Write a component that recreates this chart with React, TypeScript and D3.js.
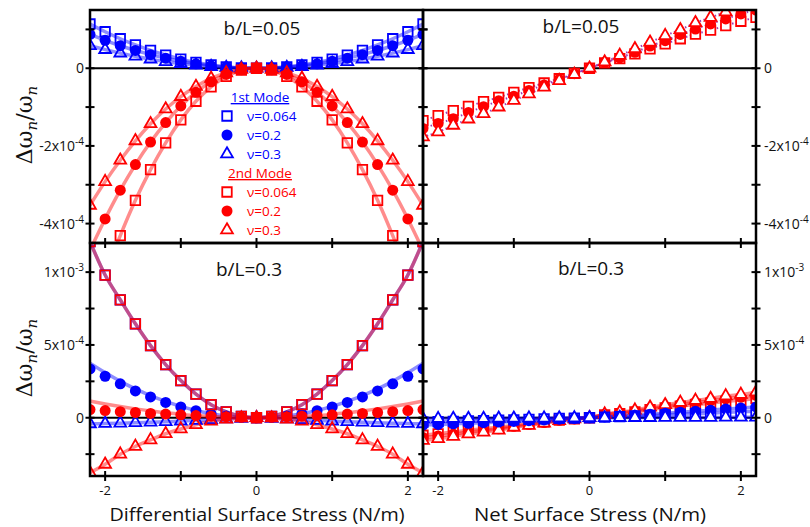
import React, { useEffect, useRef } from "react";
import * as d3 from "d3";

// surface stress grid (N/m)
const stress = [-2.2, -2.0, -1.8, -1.6, -1.4, -1.2, -1.0, -0.8, -0.6, -0.4, -0.2, 0, 0.2, 0.4, 0.6, 0.8, 1.0, 1.2, 1.4, 1.6, 1.8, 2.0, 2.2];

// all values in units of 1e-4
// b/L=0.05, differential surface stress
const d05Blue064 = [1.14, 0.94, 0.76, 0.6, 0.46, 0.34, 0.235, 0.15, 0.085, 0.038, 0.009, 0, 0.009, 0.038, 0.085, 0.15, 0.235, 0.34, 0.46, 0.6, 0.76, 0.94, 1.14];
const d05Blue02 = [0.87, 0.72, 0.58, 0.46, 0.35, 0.26, 0.18, 0.115, 0.065, 0.029, 0.007, 0, 0.007, 0.029, 0.065, 0.115, 0.18, 0.26, 0.35, 0.46, 0.58, 0.72, 0.87];
const d05Blue03 = [0.58, 0.48, 0.39, 0.31, 0.235, 0.17, 0.12, 0.077, 0.043, 0.019, 0.005, 0, 0.005, 0.019, 0.043, 0.077, 0.12, 0.17, 0.235, 0.31, 0.39, 0.48, 0.58];
const d05Red064 = [-6.44, -5.32, -4.31, -3.4, -2.61, -1.92, -1.33, -0.85, -0.48, -0.21, -0.05, 0, -0.05, -0.21, -0.48, -0.85, -1.33, -1.92, -2.61, -3.4, -4.31, -5.32, -6.44];
const d05Red02 = [-4.69, -3.88, -3.14, -2.48, -1.9, -1.4, -0.97, -0.62, -0.35, -0.16, -0.04, 0, -0.04, -0.16, -0.35, -0.62, -0.97, -1.4, -1.9, -2.48, -3.14, -3.88, -4.69];
const d05Red03 = [-3.53, -2.92, -2.37, -1.87, -1.43, -1.05, -0.73, -0.47, -0.26, -0.12, -0.03, 0, -0.03, -0.12, -0.26, -0.47, -0.73, -1.05, -1.43, -1.87, -2.37, -2.92, -3.53];

// b/L=0.05, net surface stress
const n05Red064 = [-1.35, -1.22, -1.09, -0.98, -0.86, -0.75, -0.62, -0.5, -0.38, -0.27, -0.13, 0, 0.14, 0.25, 0.37, 0.5, 0.63, 0.76, 0.88, 0.98, 1.1, 1.21, 1.31];
const n05Red02 = [-1.55, -1.42, -1.3, -1.14, -0.99, -0.84, -0.72, -0.57, -0.43, -0.29, -0.14, 0, 0.15, 0.27, 0.41, 0.57, 0.71, 0.87, 1.01, 1.14, 1.27, 1.4, 1.5];
const n05Red03 = [-1.77, -1.64, -1.47, -1.31, -1.17, -1.0, -0.83, -0.66, -0.49, -0.32, -0.16, 0, 0.16, 0.33, 0.5, 0.67, 0.84, 0.99, 1.17, 1.31, 1.45, 1.6, 1.74];

// b/L=0.3, differential surface stress
const d3Sq064 = [12.1, 9.8, 8.1, 6.45, 4.95, 3.65, 2.55, 1.62, 0.9, 0.4, 0.1, 0, 0.1, 0.4, 0.9, 1.62, 2.55, 3.65, 4.95, 6.45, 8.1, 9.8, 12.1];
const d3Blue02 = [3.35, 2.85, 2.33, 1.84, 1.43, 1.05, 0.74, 0.48, 0.27, 0.12, 0.03, 0, 0.03, 0.12, 0.27, 0.48, 0.74, 1.05, 1.43, 1.84, 2.33, 2.85, 3.35];
const d3Blue02Fit = [3.75, 3.1, 2.5, 1.98, 1.52, 1.12, 0.78, 0.5, 0.28, 0.12, 0.03, 0, 0.03, 0.12, 0.28, 0.5, 0.78, 1.12, 1.52, 1.98, 2.5, 3.1, 3.75];
const d3Blue03 = [-0.42, -0.4, -0.37, -0.34, -0.31, -0.27, -0.23, -0.19, -0.14, -0.09, -0.04, 0, -0.04, -0.09, -0.14, -0.19, -0.23, -0.27, -0.31, -0.34, -0.37, -0.4, -0.42];
const d3Red02 = [0.56, 0.49, 0.42, 0.36, 0.3, 0.25, 0.2, 0.15, 0.11, 0.07, 0.03, 0, 0.03, 0.07, 0.11, 0.15, 0.2, 0.25, 0.3, 0.36, 0.42, 0.49, 0.56];
const d3Red02Fit = [1.15, 0.95, 0.77, 0.61, 0.47, 0.34, 0.24, 0.15, 0.085, 0.04, 0.01, 0, 0.01, 0.04, 0.085, 0.15, 0.24, 0.34, 0.47, 0.61, 0.77, 0.95, 1.15];
const d3Red03 = [-3.78, -3.2, -2.5, -1.97, -1.52, -1.1, -0.77, -0.48, -0.24, -0.1, -0.02, 0, -0.02, -0.1, -0.24, -0.48, -0.77, -1.1, -1.52, -1.97, -2.5, -3.2, -3.78];

// b/L=0.3, net surface stress
const n3Blue064 = [-0.3, -0.27, -0.25, -0.22, -0.2, -0.17, -0.14, -0.11, -0.08, -0.05, -0.02, 0, 0.04, 0.08, 0.12, 0.16, 0.2, 0.24, 0.28, 0.32, 0.37, 0.41, 0.45];
const n3Blue02 = [-0.5, -0.46, -0.42, -0.38, -0.34, -0.3, -0.25, -0.2, -0.15, -0.1, -0.05, 0, 0.06, 0.12, 0.18, 0.24, 0.31, 0.38, 0.45, 0.52, 0.6, 0.67, 0.74];
const n3Blue03 = [-0.06, -0.06, -0.05, -0.05, -0.05, -0.04, -0.04, -0.03, -0.03, -0.02, -0.01, 0, 0, 0.01, 0.01, 0.01, 0.02, 0.02, 0.02, 0.02, 0.03, 0.03, 0.03];
const n3Red064 = [-1.2, -1.1, -0.98, -0.86, -0.76, -0.66, -0.52, -0.41, -0.29, -0.16, -0.07, 0, 0.19, 0.29, 0.4, 0.55, 0.68, 0.8, 0.91, 1.0, 1.12, 1.2, 1.32];
const n3Red02 = [-1.35, -1.25, -1.12, -0.98, -0.87, -0.76, -0.59, -0.47, -0.33, -0.18, -0.08, 0, 0.22, 0.33, 0.46, 0.63, 0.78, 0.92, 1.05, 1.16, 1.3, 1.4, 1.53];
const n3Red03 = [-1.56, -1.44, -1.28, -1.12, -0.99, -0.86, -0.66, -0.53, -0.37, -0.2, -0.08, 0, 0.25, 0.38, 0.52, 0.72, 0.89, 1.05, 1.19, 1.32, 1.5, 1.6, 1.76];

const xTicks = [-2, -1, 0, 1, 2];
const xTickLabels = [-2, 0, 2];
const yTicksTop = [1, 0, -1, -2, -3, -4];
const yTicksBottom = [-2.5, 0, 2.5, 5, 7.5, 10];
const yLabelsTop = [
  { v: 0, base: "0", sup: "" },
  { v: -2, base: "-2x10", sup: "-4" },
  { v: -4, base: "-4x10", sup: "-4" },
];
const yLabelsBottom = [
  { v: 0, base: "0", sup: "" },
  { v: 5, base: "5x10", sup: "-4" },
  { v: 10, base: "1x10", sup: "-3" },
];
const legendRows = [
  { head: "1st Mode", color: "#0000ff" },
  { shape: "square", label: "\u03bd=0.064", color: "#0000ff" },
  { shape: "circle", label: "\u03bd=0.2", color: "#0000ff" },
  { shape: "triangle", label: "\u03bd=0.3", color: "#0000ff" },
  { head: "2nd Mode", color: "#ff0000" },
  { shape: "square", label: "\u03bd=0.064", color: "#ff0000" },
  { shape: "circle", label: "\u03bd=0.2", color: "#ff0000" },
  { shape: "triangle", label: "\u03bd=0.3", color: "#ff0000" },
];

const BLUE = "#0000ff";
const RED = "#ff0000";
const left = 90, top = 10, panelW = 333, panelH = 233;
const font = "'Open Sans', 'DejaVu Sans', sans-serif";

const panels = [
  {
    col: 0, row: 0, dom: [-4.5, 1.5], title: "b/L=0.05", tx: 262, ty: 35, labels: yLabelsTop, ticks: yTicksTop, fillOpen: "none", line: "solid",
    series: [
      { vals: d05Blue064, color: BLUE, shape: "square" },
      { vals: d05Blue02, color: BLUE, shape: "circle" },
      { vals: d05Blue03, color: BLUE, shape: "triangle" },
      { vals: d05Red064, color: RED, shape: "square" },
      { vals: d05Red02, color: RED, shape: "circle" },
      { vals: d05Red03, color: RED, shape: "triangle" },
    ],
  },
  {
    col: 1, row: 0, dom: [-4.5, 1.5], title: "b/L=0.05", tx: 581, ty: 33, labels: yLabelsTop, ticks: yTicksTop, fillOpen: "white", line: "dotted",
    series: [
      { vals: n05Red064, color: RED, shape: "square" },
      { vals: n05Red02, color: RED, shape: "circle" },
      { vals: n05Red03, color: RED, shape: "triangle" },
    ],
  },
  {
    col: 0, row: 1, dom: [-4, 12], title: "b/L=0.3", tx: 249, ty: 276, labels: yLabelsBottom, ticks: yTicksBottom, fillOpen: "none", line: "solid",
    series: [
      { vals: d3Sq064, color: BLUE, shape: "square" },
      { vals: d3Blue02, fit: d3Blue02Fit, color: BLUE, shape: "circle" },
      { vals: d3Blue03, color: BLUE, shape: "triangle" },
      { vals: d3Sq064, color: RED, shape: "square" },
      { vals: d3Red02, fit: d3Red02Fit, color: RED, shape: "circle" },
      { vals: d3Red03, color: RED, shape: "triangle" },
    ],
  },
  {
    col: 1, row: 1, dom: [-4, 12], title: "b/L=0.3", tx: 591, ty: 275, labels: yLabelsBottom, ticks: yTicksBottom, fillOpen: "white", line: "solid",
    series: [
      { vals: n3Red064, color: RED, shape: "square" },
      { vals: n3Red02, color: RED, shape: "circle" },
      { vals: n3Red03, color: RED, shape: "triangle" },
      { vals: n3Blue064, color: BLUE, shape: "square" },
      { vals: n3Blue02, color: BLUE, shape: "circle" },
      { vals: n3Blue03, color: BLUE, shape: "triangle" },
    ],
  },
];

const symbolFor = (shape: string) => {
  if (shape === "square") return d3.symbol(d3.symbolSquare, 90)();
  if (shape === "circle") return d3.symbol(d3.symbolCircle, 95)();
  return d3.symbol(d3.symbolTriangle, 60)();
};

export default function App() {
  const ref = useRef<SVGSVGElement>(null);

  useEffect(() => {
    const svg = d3.select(ref.current);
    svg.selectAll("*").remove();
    const x = d3.scaleLinear().domain([-2.2, 2.2]).range([0, panelW]);

    panels.forEach((p, i) => {
      const y = d3.scaleLinear().domain(p.dom).range([panelH, 0]);
      const g = svg.append("g").attr("transform", `translate(${left + p.col * panelW},${top + p.row * panelH})`);
      g.append("clipPath").attr("id", "clip" + i).append("rect").attr("width", panelW).attr("height", panelH);
      const plot = g.append("g").attr("clip-path", `url(#clip${i})`);

      // zero line
      plot.append("line").attr("x1", 0).attr("x2", panelW).attr("y1", y(0)).attr("y2", y(0))
        .attr("stroke", "#000").attr("stroke-width", 1.8);

      const line = d3.line<number>().x((d, j) => x(stress[j])).y(d => y(d)).curve(d3.curveMonotoneX);
      p.series.forEach((s: any) => {
        const path = plot.append("path").datum(s.fit || s.vals).attr("d", line).attr("fill", "none");
        if (p.line === "dotted") {
          path.attr("stroke", "#a03cb4").attr("stroke-width", 2).attr("stroke-dasharray", "1.5 2.5");
        } else {
          path.attr("stroke", s.color).attr("stroke-opacity", 0.45).attr("stroke-width", 3.5);
        }
      });

      p.series.forEach((s: any) => {
        plot.selectAll(null).data(s.vals).join("path")
          .attr("transform", (d: any, j) => `translate(${x(stress[j])},${y(d)})`)
          .attr("d", symbolFor(s.shape))
          .attr("fill", s.shape === "circle" ? s.color : p.fillOpen)
          .attr("stroke", s.shape === "circle" ? "none" : s.color)
          .attr("stroke-width", 1.8);
      });

      // frame
      g.append("rect").attr("width", panelW).attr("height", panelH).attr("fill", "none")
        .attr("stroke", "#000").attr("stroke-width", 2.5);

      // x ticks on bottom edge
      g.selectAll(null).data(xTicks).join("line")
        .attr("x1", d => x(d)).attr("x2", d => x(d)).attr("y1", panelH - 5).attr("y2", panelH + 5)
        .attr("stroke", "#000").attr("stroke-width", 2);
      // y ticks on both edges
      [0, panelW].forEach(ex => {
        g.selectAll(null).data(p.ticks).join("line")
          .attr("x1", ex - 4.5).attr("x2", ex + 4.5).attr("y1", d => y(d)).attr("y2", d => y(d))
          .attr("stroke", "#000").attr("stroke-width", 2);
      });

      // y tick labels
      const lab = g.selectAll(null).data(p.labels).join("text")
        .attr("x", p.col === 0 ? -6 : panelW + 8).attr("y", (d: any) => y(d.v) + 5)
        .attr("text-anchor", p.col === 0 ? "end" : "start")
        .attr("font-family", font).attr("font-size", 14).attr("fill", "#111");
      lab.append("tspan").text((d: any) => d.base);
      lab.append("tspan").attr("dy", -6).attr("font-size", 10).text((d: any) => d.sup);

      if (p.row === 1) {
        g.selectAll(null).data(xTickLabels).join("text")
          .attr("x", d => x(d)).attr("y", panelH + 19).attr("text-anchor", "middle")
          .attr("font-family", font).attr("font-size", 13).attr("fill", "#111")
          .text(d => String(d));
      }

      svg.append("text").attr("x", p.tx).attr("y", p.ty).attr("text-anchor", "middle")
        .attr("font-family", font).attr("font-size", 19).attr("fill", "#111").text(p.title);
    });

    // legend
    const rowY = [97, 116, 135, 154, 173, 192, 211, 230];
    legendRows.forEach((r: any, i) => {
      if (r.head) {
        svg.append("text").attr("x", 260).attr("y", rowY[i] + 5).attr("text-anchor", "middle")
          .attr("font-family", font).attr("font-size", 13.5).attr("fill", r.color)
          .attr("text-decoration", "underline").text(r.head);
      } else {
        svg.append("path").attr("transform", `translate(227,${rowY[i]})`).attr("d", symbolFor(r.shape))
          .attr("fill", r.shape === "circle" ? r.color : "white")
          .attr("stroke", r.shape === "circle" ? "none" : r.color).attr("stroke-width", 1.8);
        svg.append("text").attr("x", 247).attr("y", rowY[i] + 5)
          .attr("font-family", font).attr("font-size", 13.5).attr("fill", r.color).text(r.label);
      }
    });

    // axis titles
    [125, 358].forEach(cy => {
      const t = svg.append("text").attr("transform", `translate(32,${cy}) rotate(-90)`)
        .attr("text-anchor", "middle").attr("font-family", "'DejaVu Serif', serif")
        .attr("font-style", "italic").attr("font-size", 22).attr("fill", "#111");
      t.append("tspan").attr("font-style", "normal").text("\u0394\u03c9");
      t.append("tspan").attr("dy", 5).attr("font-size", 15).text("n");
      t.append("tspan").attr("dy", -5).attr("font-style", "normal").text("/\u03c9");
      t.append("tspan").attr("dy", 5).attr("font-size", 15).text("n");
    });
    svg.append("text").attr("x", 257).attr("y", 521).attr("text-anchor", "middle")
      .attr("font-family", font).attr("font-size", 18).attr("fill", "#111")
      .attr("textLength", 295).attr("lengthAdjust", "spacingAndGlyphs")
      .text("Differential Surface Stress (N/m)");
    svg.append("text").attr("x", 590).attr("y", 521).attr("text-anchor", "middle")
      .attr("font-family", font).attr("font-size", 18).attr("fill", "#111")
      .attr("textLength", 232).attr("lengthAdjust", "spacingAndGlyphs")
      .text("Net Surface Stress (N/m)");
  }, []);

  return (
    <svg ref={ref} width={810} height={527}
      style={{ position: "absolute", left: 0, top: 0, background: "#fff" }} />
  );
}
